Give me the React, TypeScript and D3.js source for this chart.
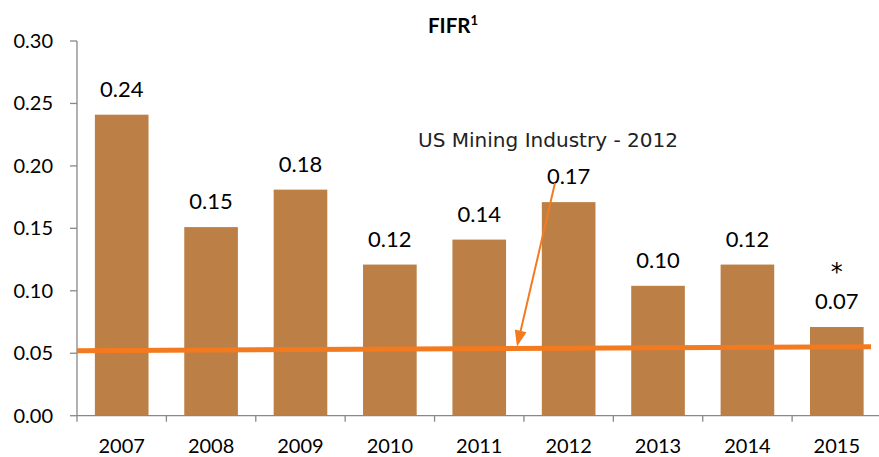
import React from "react";
import * as d3 from "d3";

const years = ["2007", "2008", "2009", "2010", "2011", "2012", "2013", "2014", "2015"];
const fifr = [0.241, 0.151, 0.181, 0.121, 0.141, 0.171, 0.104, 0.121, 0.071];
const valueLabels = ["0.24", "0.15", "0.18", "0.12", "0.14", "0.17", "0.10", "0.12", "0.07"];
const yTicks = [0, 0.05, 0.1, 0.15, 0.2, 0.25, 0.3];
const industryStart = 0.052;
const industryEnd = 0.0552;
const annotation = "US Mining Industry - 2012";

const W = 879;
const H = 457;
const left = 77;
const right = 881.5;
const top = 41;
const bottom = 415.7;

export default function App() {
  const x = d3.scaleBand<string>().domain(years).range([left, right]).paddingInner(0.4).paddingOuter(0.2);
  const y = d3.scaleLinear().domain([0, 0.3]).range([bottom, top]);
  const step = x.step();
  const font = "Lato, 'Open Sans', sans-serif";
  const lineX1 = left;
  const lineX2 = 871;
  const lineY1 = y(industryStart);
  const lineY2 = y(industryEnd);
  const ax = 517;
  const ay = d3.interpolateNumber(lineY1, lineY2)((ax - lineX1) / (lineX2 - lineX1)) - 2;
  const sx = 555;
  const sy = 183;
  const ang = Math.atan2(ay - sy, ax - sx);
  const hl = 16, hw = 6;
  const p1 = [ax - hl * Math.cos(ang) + hw * Math.sin(ang), ay - hl * Math.sin(ang) - hw * Math.cos(ang)];
  const p2 = [ax - hl * Math.cos(ang) - hw * Math.sin(ang), ay - hl * Math.sin(ang) + hw * Math.cos(ang)];

  return (
    <div style={{ position: "absolute", left: 0, top: 0 }}>
      <svg width={W} height={H} style={{ display: "block", background: "#fff" }}>
        <text x={428} y={33} fontFamily={font} fontWeight="bold" fontSize={20.5} fill="#000">
          FIFR<tspan fontSize={13} dy={-8}>1</tspan>
        </text>
        {years.map((yr, i) => (
          <rect key={yr} x={x(yr)} y={y(fifr[i])} width={x.bandwidth()} height={bottom - y(fifr[i])} fill="#BC7F46" />
        ))}
        <line x1={left} x2={left} y1={top} y2={bottom} stroke="#888" strokeWidth={1.3} />
        <line x1={left} x2={879} y1={bottom} y2={bottom} stroke="#888" strokeWidth={1.3} />
        {yTicks.map((t) => (
          <g key={t}>
            <line x1={70} x2={left} y1={y(t)} y2={y(t)} stroke="#888" strokeWidth={1.3} />
            <text x={53} y={y(t) + 7} textAnchor="end" fontFamily={font} fontSize={20} fill="#000">
              {t.toFixed(2)}
            </text>
          </g>
        ))}
        {years.map((yr, i) => (
          <g key={"t" + yr}>
            <line x1={left + i * step} x2={left + i * step} y1={bottom} y2={bottom + 6} stroke="#888" strokeWidth={1.3} />
            <text x={(x(yr) as number) + x.bandwidth() / 2} y={453} textAnchor="middle" fontFamily={font} fontSize={20} fill="#000">
              {yr}
            </text>
          </g>
        ))}
        {years.map((yr, i) => (
          <text key={"v" + yr} x={(x(yr) as number) + x.bandwidth() / 2} y={y(fifr[i]) - 18} textAnchor="middle" fontFamily={font} fontSize={22} fill="#000">
            {valueLabels[i]}
          </text>
        ))}
        <text x={(x("2015") as number) + x.bandwidth() / 2} y={280} textAnchor="middle" fontFamily="'DejaVu Sans', sans-serif" fontSize={24} fill="#000">
          *
        </text>
        <line x1={lineX1} y1={lineY1} x2={lineX2} y2={lineY2} stroke="#F47A20" strokeWidth={5} />
        <line x1={sx} y1={sy} x2={ax - 10 * Math.cos(ang)} y2={ay - 10 * Math.sin(ang)} stroke="#F47A20" strokeWidth={2} />
        <polygon points={`${ax},${ay} ${p1[0]},${p1[1]} ${p2[0]},${p2[1]}`} fill="#F47A20" />
        <text x={418} y={147} fontFamily="'DejaVu Sans', sans-serif" fontSize={19} fill="#222" textLength={260} lengthAdjust="spacingAndGlyphs">
          {annotation}
        </text>
      </svg>
    </div>
  );
}
